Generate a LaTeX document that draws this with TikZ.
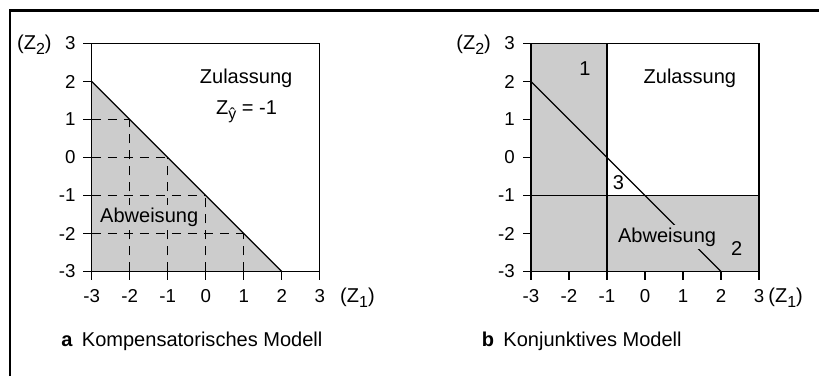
\documentclass[tikz,border=0pt]{standalone}
\usepackage{fontspec}
\setmainfont{Liberation Sans}
\usetikzlibrary{calc}
\definecolor{shadegray}{gray}{0.80}
\newcommand{\lowsub}[1]{\raisebox{-0.45ex}{\fontsize{12}{12}\selectfont #1}}

\begin{document}
\begin{tikzpicture}[every node/.style={font=\fontsize{15}{17}\selectfont, inner sep=0pt},
    ticklab/.style={font=\fontsize{14}{16}\selectfont},
    gridline/.style={dash pattern=on 7pt off 5pt, line width=0.7pt},
    plotline/.style={line width=0.9pt},
    zone/.style={fill=shadegray, inner sep=2pt}]
    \useasboundingbox (0,0) rectangle (21.553,9.895);
    % frame
    \coordinate (F1) at (0.263,0);
    \coordinate (F2) at (0.263,9.618);
    \coordinate (F3) at (21.553,9.618);
    \draw[line width=2pt] (F1)--(F2)--(F3);

    % a: kompensatorisch
    \begin{scope}[shift={(5.416,5.75)}]
    \coordinate (A) at (-3,2);
    \coordinate (B) at (-3,-3);
    \coordinate (C) at (2,-3);
    \fill[shadegray] (A)--(B)--(C)--cycle;
    \foreach \k in {1,...,4} {
        \draw[gridline] (-3,2-\k) -- (\k-3,2-\k);
        \draw[gridline] (\k-3,-3) -- (\k-3,2-\k);
    }
    \draw[plotline] (A)--(C);
    \draw[plotline] (-3,-3) rectangle (3,3);
    \foreach \v in {-3,...,3} {
        \draw[plotline] (\v,-3) -- (\v,-3.22);
        \draw[plotline] (-3,\v) -- (-3.22,\v);
        \node[ticklab, anchor=base] (xa\v) at (\v,-3.82) {\v};
        \node[ticklab, anchor=east] (ya\v) at (-3.42,\v) {\v};
    }
    \node[anchor=base west] (z1a) at (3.53,-3.82) {(Z\lowsub{1})};
    \node[anchor=base east] (z2a) at (-4.05,2.83) {(Z\lowsub{2})};
    \node[anchor=base] (zula) at (1.06,1.95) {Zulassung};
    \node[anchor=base] (crit) at (1.07,1.13) {Z\lowsub{ŷ} = -1};
    \node[zone, anchor=base] (abwa) at (-1.49,-1.71) {Abweisung};
    \node[anchor=base west] (capa) at (-3.81,-4.97) {\textbf{a}\hspace{7pt}Kompensatorisches Modell};
    \end{scope}

    % b: konjunktiv
    \begin{scope}[shift={(16.974,5.75)}]
    \coordinate (P) at (-3,2);
    \coordinate (Q) at (2,-3);
    \fill[shadegray] (-3,-3) -- (3,-3) -- (3,-1) -- (-1,-1) -- (-1,3) -- (-3,3) -- cycle;
    \draw[plotline] (-1,-3) -- (-1,3);
    \draw[plotline] (-3,-1) -- (3,-1);
    \draw[plotline] (P)--(Q);
    \draw[plotline] (-3,-3) rectangle (3,3);
    \foreach \v in {-3,...,3} {
        \draw[plotline] (\v,-3) -- (\v,-3.22);
        \draw[plotline] (-3,\v) -- (-3.22,\v);
        \node[ticklab, anchor=base] (xb\v) at (\v,-3.82) {\v};
        \node[ticklab, anchor=east] (yb\v) at (-3.42,\v) {\v};
    }
    \node[anchor=base west] (z1b) at (3.24,-3.82) {(Z\lowsub{1})};
    \node[anchor=base east] (z2b) at (-4.05,2.83) {(Z\lowsub{2})};
    \node[anchor=base] (zulb) at (1.18,1.94) {Zulassung};
    \node[anchor=base] (one) at (-1.58,2.16) {1};
    \node[anchor=base] (three) at (-0.70,-0.85) {3};
    \node[anchor=base] (two) at (2.41,-2.58) {2};
    \node[zone, anchor=base] (abwb) at (0.58,-2.23) {Abweisung};
    \node[anchor=base west] (capb) at (-4.30,-4.97) {\textbf{b}\hspace{7pt}Konjunktives Modell};
    \end{scope}
\end{tikzpicture}
\end{document}
